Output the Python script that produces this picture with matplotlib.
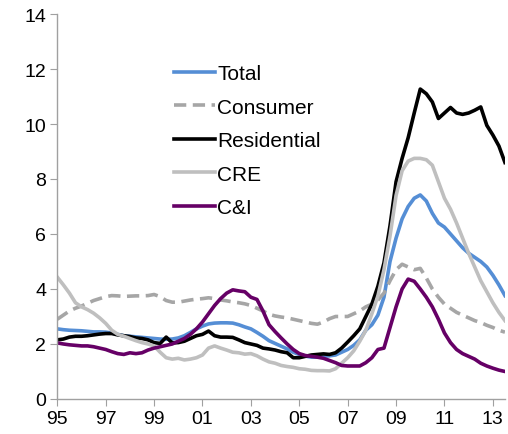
import numpy as np
import matplotlib
matplotlib.use("Agg")
import matplotlib.pyplot as plt

plt.rcParams["font.family"] = ["Liberation Sans", "DejaVu Sans"]

# quarterly, 1995Q1 .. 2013Q3
quarters = 1995 + 0.25 * np.arange(75)

total = [2.55, 2.52, 2.50, 2.49, 2.48, 2.46, 2.44, 2.44, 2.43, 2.40,
         2.35, 2.30, 2.28, 2.26, 2.24, 2.22, 2.20, 2.18, 2.17, 2.18,
         2.22, 2.30, 2.42, 2.55, 2.65, 2.73, 2.76, 2.77, 2.77, 2.76,
         2.70, 2.62, 2.55, 2.42, 2.28, 2.12, 2.02, 1.92, 1.82, 1.70,
         1.62, 1.56, 1.52, 1.52, 1.55, 1.57, 1.60, 1.70, 1.80, 1.95,
         2.15, 2.50, 2.70, 3.05, 3.70, 5.00, 5.85, 6.55, 7.00, 7.30,
         7.42, 7.20, 6.75, 6.40, 6.25, 6.00, 5.75, 5.50, 5.30, 5.15,
         5.00, 4.80, 4.50, 4.15, 3.76]

consumer = [2.90, 3.05, 3.20, 3.30, 3.38, 3.48, 3.58, 3.65, 3.72, 3.76,
            3.75, 3.73, 3.74, 3.75, 3.75, 3.76, 3.80, 3.72, 3.58, 3.52,
            3.52, 3.56, 3.60, 3.63, 3.65, 3.68, 3.65, 3.60, 3.57, 3.53,
            3.50, 3.46, 3.40, 3.30, 3.20, 3.08, 3.02, 2.98, 2.95, 2.90,
            2.85, 2.80, 2.75, 2.72, 2.80, 2.92, 3.00, 3.00, 3.00, 3.10,
            3.20, 3.35, 3.45, 3.60, 3.85, 4.30, 4.70, 4.90, 4.80, 4.70,
            4.75, 4.40, 4.00, 3.70, 3.45, 3.30, 3.15, 3.05, 2.95, 2.85,
            2.78, 2.68, 2.60, 2.50, 2.43]

residential = [2.15, 2.18, 2.25, 2.28, 2.28, 2.30, 2.33, 2.36, 2.38, 2.38,
               2.33, 2.30, 2.27, 2.22, 2.20, 2.15, 2.05, 2.02, 2.25, 2.04,
               2.05, 2.10, 2.20, 2.30, 2.35, 2.47, 2.30, 2.25, 2.25, 2.24,
               2.15, 2.05, 2.00, 1.95, 1.85, 1.82, 1.78, 1.72, 1.68, 1.50,
               1.50, 1.55, 1.60, 1.62, 1.64, 1.62, 1.68, 1.85, 2.07, 2.30,
               2.55, 3.00, 3.45, 4.10, 4.95, 6.30, 7.90, 8.75, 9.50, 10.40,
               11.27, 11.10, 10.80, 10.20, 10.40, 10.60, 10.40, 10.35, 10.40, 10.50,
               10.62, 9.95, 9.60, 9.20, 8.60]

cre = [4.43, 4.15, 3.85, 3.50, 3.35, 3.25, 3.12, 2.95, 2.75, 2.50,
       2.35, 2.28, 2.20, 2.12, 2.05, 2.00, 1.93, 1.70, 1.50, 1.45,
       1.48, 1.42, 1.45, 1.50, 1.60, 1.85, 1.93, 1.85, 1.78, 1.70,
       1.68, 1.63, 1.65, 1.57, 1.45, 1.35, 1.30, 1.22, 1.18, 1.15,
       1.10, 1.08, 1.04, 1.03, 1.03, 1.02, 1.10, 1.30, 1.50, 1.75,
       2.10, 2.50, 3.10, 3.75, 4.70, 5.93, 7.40, 8.30, 8.65, 8.75,
       8.75, 8.70, 8.50, 7.90, 7.30, 6.90, 6.40, 5.85, 5.30, 4.80,
       4.30, 3.90, 3.50, 3.15, 2.85]

c_and_i = [2.04, 2.00, 1.97, 1.95, 1.93, 1.93, 1.90, 1.85, 1.80, 1.72,
           1.65, 1.62, 1.68, 1.65, 1.68, 1.78, 1.85, 1.90, 1.95, 2.00,
           2.10, 2.20, 2.35, 2.55, 2.80, 3.10, 3.40, 3.65, 3.85, 3.97,
           3.93, 3.90, 3.70, 3.62, 3.20, 2.70, 2.45, 2.22, 2.00, 1.80,
           1.65, 1.58, 1.55, 1.52, 1.48, 1.40, 1.32, 1.22, 1.20, 1.20,
           1.20, 1.32, 1.50, 1.80, 1.85, 2.60, 3.35, 4.00, 4.36, 4.28,
           4.00, 3.70, 3.35, 2.90, 2.40, 2.05, 1.80, 1.65, 1.55, 1.45,
           1.30, 1.20, 1.12, 1.05, 1.00]

xticks = [1995, 1997, 1999, 2001, 2003, 2005, 2007, 2009, 2011, 2013]
xticklabels = ["95", "97", "99", "01", "03", "05", "07", "09", "11", "13"]

fig = plt.figure(figsize=(5.08, 4.35), dpi=100)
ax = fig.add_axes([0.1128, 0.0805, 0.8812, 0.885])

lw = 2.6
ax.plot(quarters, total, color="#558ED5", lw=lw, label="Total")
ax.plot(quarters, consumer, color="#A6A6A6", lw=lw, ls=(0, (3.4, 1.8)),
        label="Consumer")
ax.plot(quarters, residential, color="black", lw=lw, label="Residential")
ax.plot(quarters, cre, color="#BFBFBF", lw=lw, label="CRE")
ax.plot(quarters, c_and_i, color="#660066", lw=lw, label="C&I")

ax.set_xlim(1995, 2013.5)
ax.set_ylim(0, 14)
ax.set_yticks(range(0, 15, 2))
ax.set_xticks(xticks)
ax.set_xticklabels(xticklabels)
for s in ("top", "right"):
    ax.spines[s].set_visible(False)
for s in ("left", "bottom"):
    ax.spines[s].set_color("#A0A0A0")
    ax.spines[s].set_linewidth(1.0)
ax.tick_params(direction="out", length=5, color="#A0A0A0", labelsize=14,
               pad=3)

ax.legend(loc="upper left", bbox_to_anchor=(0.241, 0.892), frameon=False,
          fontsize=15, handlelength=2.0, handletextpad=0.1, labelspacing=0.7,
          borderaxespad=0)

fig.savefig("out.png", dpi=100)
